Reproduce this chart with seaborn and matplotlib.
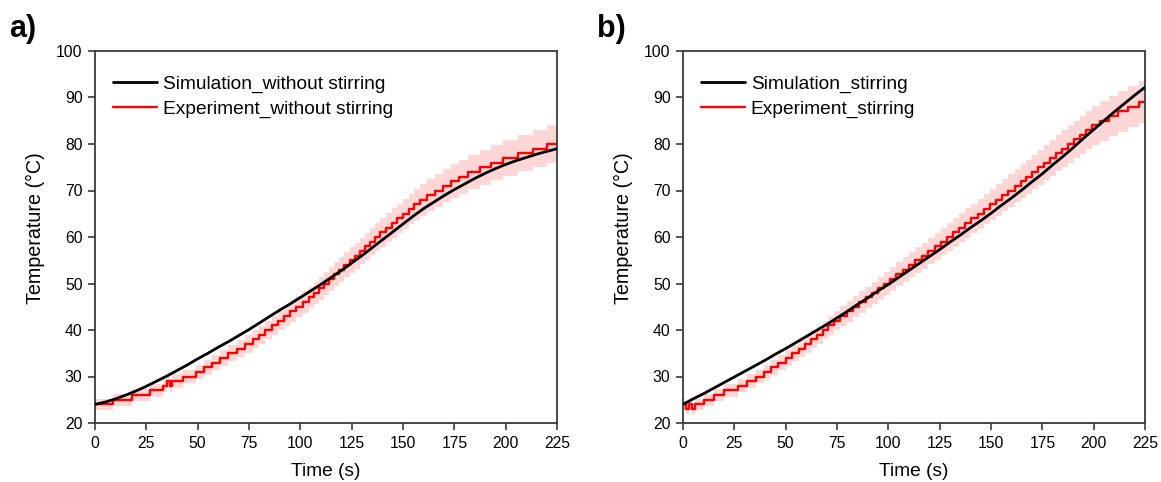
import numpy as np
import pandas as pd
import matplotlib
matplotlib.use("Agg")
import matplotlib.pyplot as plt
import seaborn as sns

# ---------------- data ----------------
sim_time = [0, 5, 10, 15, 20, 25, 30, 35, 40, 45, 50, 55, 60, 65, 70, 75, 80,
            85, 90, 95, 100, 105, 110, 115, 120, 125, 130, 135, 140, 145, 150,
            155, 160, 165, 170, 175, 180, 185, 190, 195, 200, 205, 210, 215,
            220, 225]
sim_a_temp = [24.0, 24.5, 25.2, 26.0, 26.9, 27.9, 29.0, 30.1, 31.3, 32.5, 33.8,
              35.0, 36.3, 37.5, 38.8, 40.1, 41.5, 42.9, 44.3, 45.6, 47.0, 48.4,
              49.8, 51.3, 52.8, 54.4, 56.0, 57.7, 59.4, 61.1, 62.8, 64.5, 66.1,
              67.5, 68.9, 70.2, 71.4, 72.6, 73.7, 74.7, 75.6, 76.4, 77.1, 77.8,
              78.4, 79.0]
sim_b_temp = [24.0, 25.2, 26.3, 27.5, 28.7, 29.9, 31.1, 32.3, 33.5, 34.8, 36.0,
              37.3, 38.6, 39.9, 41.2, 42.6, 44.0, 45.5, 46.9, 48.4, 49.8, 51.3,
              52.8, 54.3, 55.8, 57.3, 58.9, 60.4, 62.0, 63.5, 65.1, 66.8, 68.4,
              70.1, 71.9, 73.6, 75.5, 77.3, 79.2, 81.2, 83.1, 85.0, 86.9, 88.7,
              90.5, 92.2]

exp_a_time = [0, 9, 18, 27, 33, 35, 36.5, 37.5, 43, 49, 53, 57, 61, 65, 69, 73,
              77, 80, 83, 86, 89, 92, 95, 98, 101.5, 104, 106.5, 109, 111.5, 114,
              116.5, 119, 121.5, 124, 126.5, 129, 131.5, 134, 136.5, 139, 141.7,
              144.4, 147.2, 150, 152.8, 155.6, 158.3, 161.6, 165.5, 169.4, 173.3,
              177.3, 181.7, 187.4, 193.1, 198.9, 206, 213.5, 220, 225]
exp_a_temp = [24, 25, 26, 27, 28, 29, 28, 29, 30, 31, 32, 33, 34, 35, 36, 37,
              38, 39, 40, 41, 42, 43, 44, 45, 46, 47, 48, 49, 50, 51,
              52, 53, 54, 55, 56, 57, 58, 59, 60, 61, 62,
              63, 64, 65, 66, 67, 68, 69, 70, 71, 72,
              73, 74, 75, 76, 77, 78, 79, 80, 80]

exp_b_time = [0, 1.5, 3, 4.5, 6, 10, 15, 20, 27, 31, 35.5, 39.3, 42.9, 46.4, 50,
              53.1, 56.3, 59.4, 62.5, 65.3, 68.1, 70.8, 73.6, 76.6, 79.7, 82.8,
              85.9, 89, 91.9, 94.8, 97.7, 100.6, 103.8, 106.9, 110, 113.1, 116.3,
              119.4, 122.5, 125.6, 128.6, 131.5, 134.5, 137.5, 140.5, 143.5,
              146.4, 149.4, 152.4, 155.5, 158.5, 161.6, 164.4, 167.2, 170, 172.8,
              175.6, 178.6, 181.5, 184.5, 187.5, 190.5, 193.5, 196.4, 199.4,
              203.3, 207.5, 211.7, 216.8, 222.3, 225]
exp_b_temp = [24, 23, 24, 23, 24, 25, 26, 27, 28, 29, 30, 31, 32, 33, 34,
              35, 36, 37, 38, 39, 40, 41, 42, 43, 44, 45,
              46, 47, 48, 49, 50, 51, 52, 53, 54, 55, 56,
              57, 58, 59, 60, 61, 62, 63, 64, 65,
              66, 67, 68, 69, 70, 71, 72, 73, 74, 75,
              76, 77, 78, 79, 80, 81, 82, 83, 84,
              85, 86, 87, 88, 89, 89]

exp_rel_uncertainty = 0.05  # shaded band: +/- 5 % of reading

x_ticks = [0, 25, 50, 75, 100, 125, 150, 175, 200, 225]
y_ticks = [20, 30, 40, 50, 60, 70, 80, 90, 100]

panels = [
    ("a)", sim_a_temp, exp_a_time, exp_a_temp,
     "Simulation_without stirring", "Experiment_without stirring"),
    ("b)", sim_b_temp, exp_b_time, exp_b_temp,
     "Simulation_stirring", "Experiment_stirring"),
]

# ---------------- style ----------------
sns.set_theme(style="ticks")
plt.rcParams["font.family"] = ["Liberation Sans", "DejaVu Sans"]
plt.rcParams["text.color"] = "black"
plt.rcParams["axes.labelcolor"] = "black"
plt.rcParams["axes.edgecolor"] = "#3a3a3a"
plt.rcParams["xtick.color"] = "#3a3a3a"
plt.rcParams["ytick.color"] = "#3a3a3a"
plt.rcParams["xtick.labelcolor"] = "black"
plt.rcParams["ytick.labelcolor"] = "black"

fig = plt.figure(figsize=(11.61, 4.82), dpi=100)
lefts = [95 / 1161, 683 / 1161]
label_x = [9 / 1161, 597 / 1161]
bottom = 1 - 423 / 482
height = (423 - 51) / 482
width = 462 / 1161

for i, (tag, sim_t, et, ev, sim_lab, exp_lab) in enumerate(panels):
    ax = fig.add_axes([lefts[i], bottom, width, height])
    ev_arr = np.array(ev, dtype=float)
    ax.fill_between(et, ev_arr * (1 - exp_rel_uncertainty),
                    ev_arr * (1 + exp_rel_uncertainty),
                    step="post", color="#ffd6d6", lw=0, zorder=1)
    df_exp = pd.DataFrame({"t": et, "T": ev})
    df_sim = pd.DataFrame({"t": sim_time, "T": sim_t})
    sns.lineplot(data=df_exp, x="t", y="T", ax=ax, color="#ff0000", lw=1.7,
                 drawstyle="steps-post", estimator=None, sort=False, zorder=2,
                 label=exp_lab)
    sns.lineplot(data=df_sim, x="t", y="T", ax=ax, color="black", lw=2.0,
                 estimator=None, zorder=3, label=sim_lab)
    ax.set_xlim(0, 225)
    ax.set_ylim(20, 100)
    ax.set_xticks(x_ticks)
    ax.set_yticks(y_ticks)
    ax.tick_params(direction="out", length=5, width=1.2, labelsize=11.3, pad=4)
    for sp in ax.spines.values():
        sp.set_linewidth(1.3)
    ax.set_xlabel("Time (s)", fontsize=13.8, labelpad=9)
    ax.set_ylabel("Temperature (°C)", fontsize=14.2)
    ax.yaxis.set_label_coords(-0.108, 0.524)
    handles, labels = ax.get_legend_handles_labels()
    order = [labels.index(sim_lab), labels.index(exp_lab)]
    ax.legend([handles[k] for k in order], [labels[k] for k in order],
              loc="upper left", bbox_to_anchor=(0.039, 0.935), frameon=False,
              fontsize=13.8, handlelength=2.3, handletextpad=0.3,
              borderpad=0, borderaxespad=0, labelspacing=0.38)
    fig.text(label_x[i], 0.94, tag, fontsize=22, fontweight="bold",
             ha="left", va="center")

fig.savefig("out.png", dpi=100)
